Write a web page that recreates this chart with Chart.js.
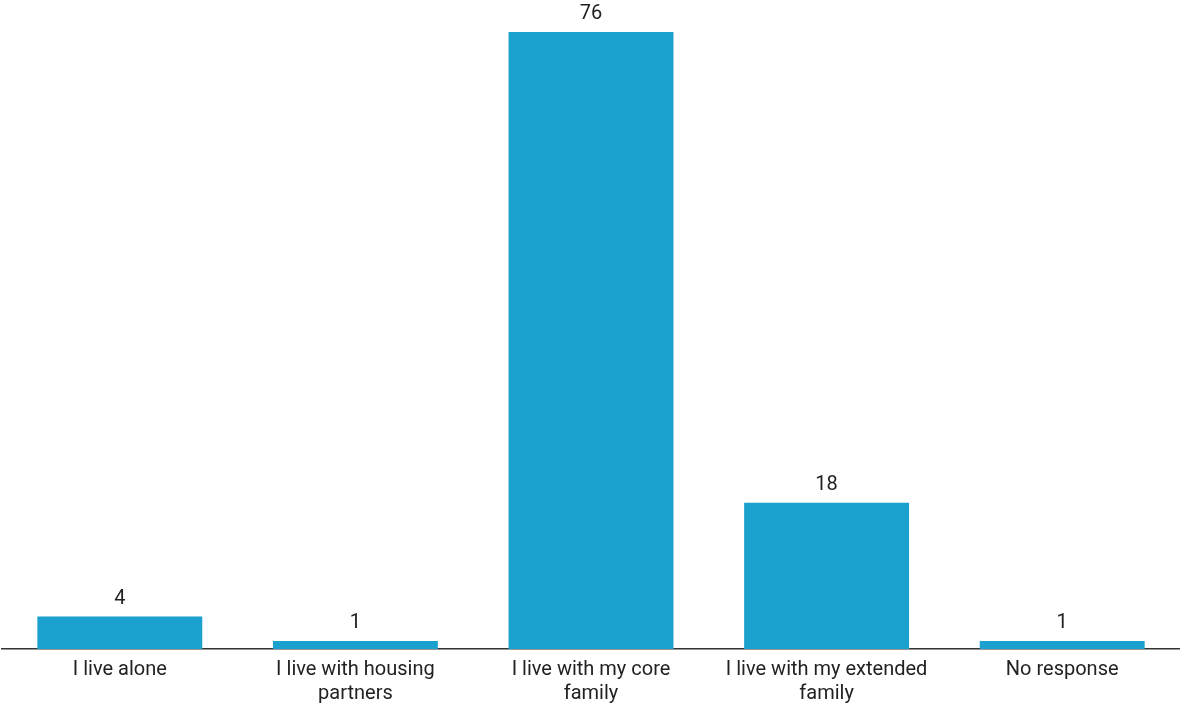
<!DOCTYPE html>
<html>
<head>
<meta charset="utf-8">
<script src="https://cdn.jsdelivr.net/npm/chart.js@4.4.1/dist/chart.umd.min.js"></script>
<style>
  html, body { margin:0; padding:0; background:#fff; }
  #wrap { width:1180px; height:706px; position:relative; }
</style>
</head>
<body>
<div id="wrap"><canvas id="chart-hogar"></canvas></div>
<script>
// categorías y valores
const categorias = [
  'I live alone',
  ['I live with housing', 'partners'],
  ['I live with my core', 'family'],
  ['I live with my extended', 'family'],
  'No response',
];
const valores = [4, 1, 76, 18, 1];

const AZUL = '#1aa1ce';
const TEXTO = '#222222';

// etiquetas de valor encima de cada barra
const etiquetasValor = {
  id:'etiquetasValor',
  afterDatasetsDraw(chart) {
    const ctx = chart.ctx;
    const meta = chart.getDatasetMeta(0);
    ctx.save();
    ctx.font = '20px Roboto';
    ctx.fillStyle = TEXTO;
    ctx.textAlign = 'center';
    ctx.textBaseline = 'bottom';
    meta.data.forEach((bar, i) => {
      ctx.fillText(String(valores[i]), bar.x, bar.y - 8);
    });
    ctx.restore();
  }
};

new Chart(document.getElementById('chart-hogar'), {
  type:'bar',
  data:{
    labels:categorias,
    datasets:[{
      data:valores,
      backgroundColor:AZUL,
      borderWidth:0,
      barPercentage:0.7,
      categoryPercentage:1.0,
    }]
  },
  options:{
    responsive:true, maintainAspectRatio:false,
    animation:false,
    layout:{padding:{top:32, left:2, right:0, bottom:-9}},
    plugins:{ legend:{display:false}, tooltip:{enabled:false} },
    scales:{
      x:{
        grid:{display:false, drawTicks:false},
        border:{display:true, color:'#333333', width:1.5},
        ticks:{
          color:TEXTO, padding:9, maxRotation:0, autoSkip:false,
          font:{family:'Roboto', size:20, lineHeight:1.2},
        },
      },
      y:{
        display:false,
        min:0, max:76,
      }
    }
  },
  plugins:[etiquetasValor]
});
</script>
</body>
</html>
